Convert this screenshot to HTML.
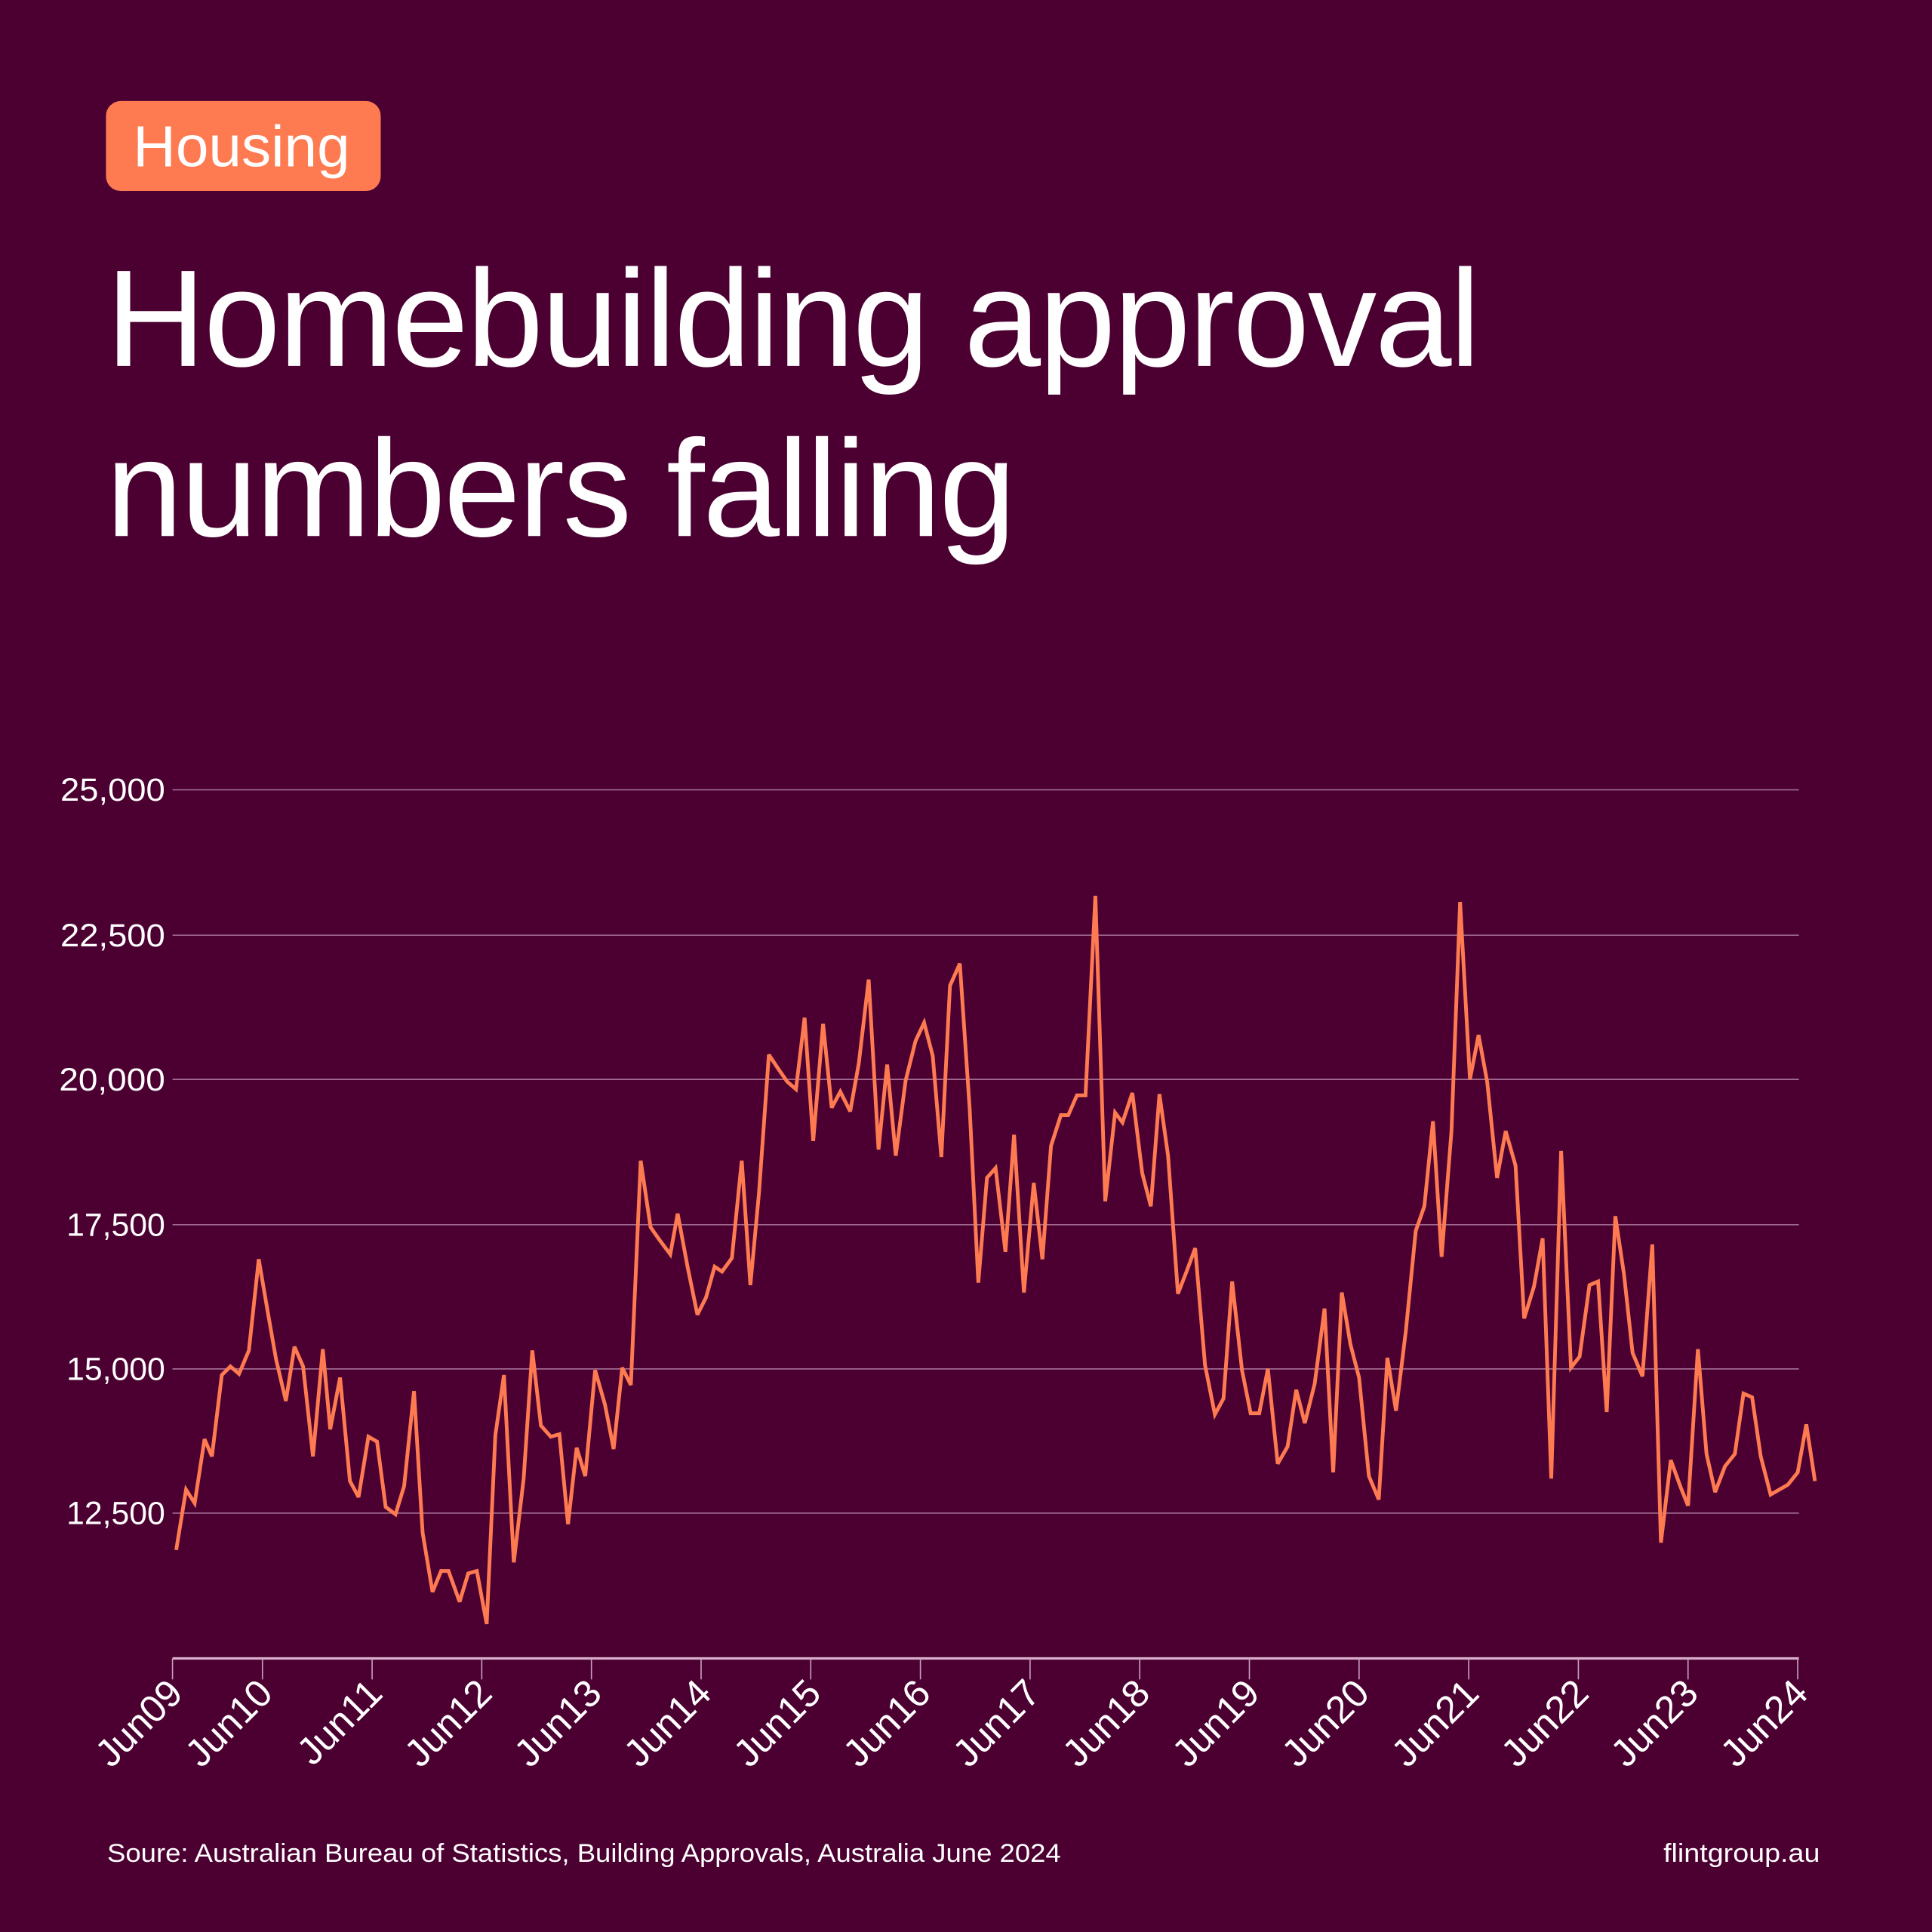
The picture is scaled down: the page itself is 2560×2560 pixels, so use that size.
<!DOCTYPE html>
<html><head><meta charset="utf-8">
<style>
html,body{margin:0;padding:0;background:#4b0031;}
svg{display:block;}
text{font-family:"Liberation Sans",sans-serif;fill:#fff;}
</style></head>
<body>
<svg width="2560" height="2560" viewBox="0 0 1568 1568" xmlns="http://www.w3.org/2000/svg">
<rect width="1568" height="1568" fill="#4b0031"/>
<rect x="86" y="82" width="223" height="73" rx="12" fill="#fe7b52"/>
<text x="108" y="135" font-size="47" textLength="176" lengthAdjust="spacingAndGlyphs">Housing</text>
<text x="86" y="297" font-size="112" letter-spacing="-1.5">Homebuilding approval</text>
<text x="86" y="435" font-size="112" letter-spacing="-1.5">numbers falling</text>
<g stroke="#a06a90" stroke-width="1">
<line x1="140" y1="641" x2="1460" y2="641"/>
<line x1="140" y1="759" x2="1460" y2="759"/>
<line x1="140" y1="876" x2="1460" y2="876"/>
<line x1="140" y1="994" x2="1460" y2="994"/>
<line x1="140" y1="1111" x2="1460" y2="1111"/>
<line x1="140" y1="1228" x2="1460" y2="1228"/>
</g>
<g font-size="26" text-anchor="end">
<text x="134" y="650" textLength="85" lengthAdjust="spacingAndGlyphs">25,000</text>
<text x="134" y="768" textLength="85" lengthAdjust="spacingAndGlyphs">22,500</text>
<text x="134" y="885" textLength="86" lengthAdjust="spacingAndGlyphs">20,000</text>
<text x="134" y="1003" textLength="80" lengthAdjust="spacingAndGlyphs">17,500</text>
<text x="134" y="1120" textLength="80" lengthAdjust="spacingAndGlyphs">15,000</text>
<text x="134" y="1237" textLength="80" lengthAdjust="spacingAndGlyphs">12,500</text>
</g>
<line x1="140" y1="1346" x2="1460" y2="1346" stroke="#d8b0cc" stroke-width="2"/>
<g stroke="#c8a0bc" stroke-width="1">
<line x1="140" y1="1346" x2="140" y2="1363"/><line x1="213" y1="1346" x2="213" y2="1363"/>
<line x1="302" y1="1346" x2="302" y2="1363"/><line x1="391" y1="1346" x2="391" y2="1363"/>
<line x1="480" y1="1346" x2="480" y2="1363"/><line x1="569" y1="1346" x2="569" y2="1363"/>
<line x1="658" y1="1346" x2="658" y2="1363"/><line x1="747" y1="1346" x2="747" y2="1363"/>
<line x1="836" y1="1346" x2="836" y2="1363"/><line x1="925" y1="1346" x2="925" y2="1363"/>
<line x1="1014" y1="1346" x2="1014" y2="1363"/><line x1="1103" y1="1346" x2="1103" y2="1363"/>
<line x1="1192" y1="1346" x2="1192" y2="1363"/><line x1="1281" y1="1346" x2="1281" y2="1363"/>
<line x1="1370" y1="1346" x2="1370" y2="1363"/><line x1="1459" y1="1346" x2="1459" y2="1363"/>
</g>
<g font-size="31" text-anchor="end">
<text transform="translate(150,1376) rotate(-45)">Jun09</text>
<text transform="translate(223,1376) rotate(-45)">Jun10</text>
<text transform="translate(312,1376) rotate(-45)">Jun11</text>
<text transform="translate(401,1376) rotate(-45)">Jun12</text>
<text transform="translate(490,1376) rotate(-45)">Jun13</text>
<text transform="translate(579,1376) rotate(-45)">Jun14</text>
<text transform="translate(668,1376) rotate(-45)">Jun15</text>
<text transform="translate(757,1376) rotate(-45)">Jun16</text>
<text transform="translate(846,1376) rotate(-45)">Jun17</text>
<text transform="translate(935,1376) rotate(-45)">Jun18</text>
<text transform="translate(1024,1376) rotate(-45)">Jun19</text>
<text transform="translate(1113,1376) rotate(-45)">Jun20</text>
<text transform="translate(1202,1376) rotate(-45)">Jun21</text>
<text transform="translate(1291,1376) rotate(-45)">Jun22</text>
<text transform="translate(1380,1376) rotate(-45)">Jun23</text>
<text transform="translate(1469,1376) rotate(-45)">Jun24</text>
</g>
<polyline fill="none" stroke="#fe7b52" stroke-width="3" stroke-linejoin="miter" stroke-miterlimit="3" points="143,1258 151,1209 158,1220 166,1168 172,1182 180,1116 187,1109 194,1115 202,1096 210,1022 217,1063 224,1103 232,1137 239,1093 246,1109 254,1182 262,1095 268,1160 276,1118 284,1202 291,1215 299,1166 306,1170 313,1223 321,1229 328,1206 336,1129 343,1244 351,1292 358,1275 364,1275 373,1300 380,1277 387,1275 395,1318 402,1165 409,1116 417,1268 425,1200 432,1096 439,1157 447,1166 454,1164 461,1237 468,1175 475,1198 483,1112 491,1140 498,1176 505,1110 512,1124 520,942 528,996 535,1006 544,1018 550,985 558,1028 566,1067 573,1053 580,1028 586,1032 594,1021 602,942 609,1043 616,968 624,856 632,868 639,878 646,884 653,826 660,926 668,831 675,899 682,886 690,902 697,863 705,795 713,933 720,864 727,938 735,877 743,845 750,830 757,857 764,939 771,800 779,782 787,900 794,1041 801,956 808,948 816,1016 823,921 831,1049 839,960 846,1022 853,930 861,905 867,905 874,889 881,889 889,727 897,975 905,903 911,911 919,887 927,952 934,979 941,888 948,938 956,1050 963,1032 970,1013 978,1108 986,1148 993,1135 1000,1040 1008,1112 1015,1147 1022,1147 1029,1111 1037,1188 1045,1174 1052,1128 1059,1155 1067,1123 1075,1062 1082,1195 1089,1049 1096,1091 1103,1118 1111,1198 1119,1217 1126,1102 1133,1145 1141,1080 1149,999 1156,979 1163,910 1170,1020 1178,918 1185,732 1193,876 1200,840 1207,878 1215,956 1222,918 1230,946 1237,1070 1245,1044 1252,1005 1259,1200 1267,934 1275,1110 1282,1101 1290,1043 1297,1040 1304,1146 1311,987 1318,1034 1325,1098 1333,1117 1341,1010 1348,1252 1356,1185 1364,1207 1370,1222 1378,1095 1385,1180 1392,1211 1400,1190 1408,1180 1415,1131 1422,1134 1429,1182 1437,1213 1444,1209 1451,1205 1459,1195 1466,1156 1473,1202"/>
<text x="87" y="1511" font-size="21" textLength="774" lengthAdjust="spacingAndGlyphs">Soure: Australian Bureau of Statistics, Building Approvals, Australia June 2024</text>
<text x="1477" y="1511" font-size="21" text-anchor="end" textLength="127" lengthAdjust="spacingAndGlyphs">flintgroup.au</text>
</svg>
</body></html>
